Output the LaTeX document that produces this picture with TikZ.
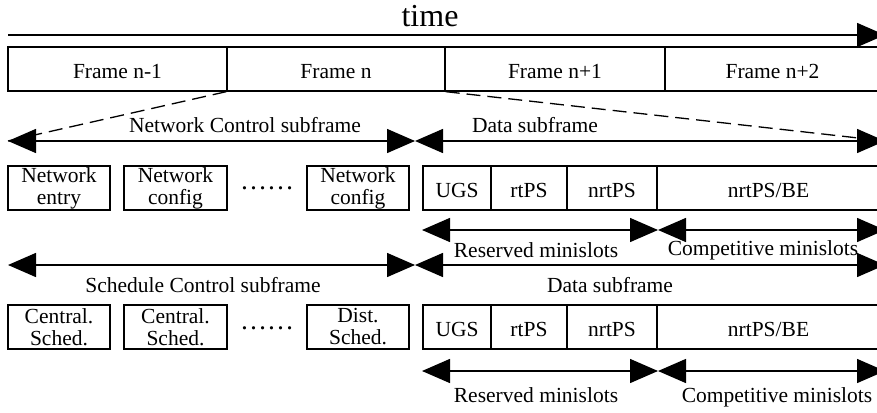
\documentclass[tikz,border=0pt]{standalone}
\usepackage{fontspec}
\setmainfont{Liberation Serif}
\usetikzlibrary{arrows.meta}
\begin{document}
\begin{tikzpicture}[x=1pt,y=-1pt,
  txt/.style={font=\fontsize{21.5}{22}\selectfont, inner sep=0pt, anchor=base},
  cell/.style={draw, line width=1.3pt, inner sep=0pt, font=\fontsize{21.5}{22}\selectfont, align=center},
  one/.style={text height=18pt, text depth=0pt},
  dimarr/.style={line width=1.5pt, {Triangle[length=28pt,width=24pt]}-{Triangle[length=28pt,width=24pt]}},
  onearr/.style={line width=1.5pt, -{Triangle[length=28pt,width=24pt]}},
  dots/.style={font=\fontsize{27}{27}\selectfont, inner sep=0pt, anchor=base},
  dashline/.style={line width=1.3pt, dash pattern=on 14pt off 7pt}
  ]
\useasboundingbox (0,0) rectangle (877,412);

% time
\node[txt, font=\fontsize{32}{32}\selectfont] (time) at (430,27) {time};
\coordinate (t0) at (8,35);
\coordinate (t1) at (885,35);
\draw[onearr] (t0) -- (t1);

% frames
\node[cell, one, minimum width=219pt, minimum height=44pt] (f1) at (117.5,69) {Frame n-1};
\node[cell, one, minimum width=218pt, minimum height=44pt] (f2) at (336,69) {Frame n};
\node[cell, one, minimum width=220pt, minimum height=44pt] (f3) at (555,69) {Frame n+1};
\node[cell, one, minimum width=215pt, minimum height=44pt] (f4) at (772.5,69) {Frame n+2};

% section 1 arrows
\coordinate (ncl) at (8,141);
\coordinate (ncr) at (415,141);
\coordinate (dsr) at (885,141);
\draw[dimarr] (ncl) -- (ncr);
\draw[dimarr] (ncr) -- (dsr);
\draw[dashline] (f2.south west) -- (ncl);
\draw[dashline] (f2.south east) -- (dsr);
\node[txt] (nclab) at (245,132) {Network Control subframe};
\node[txt] (dslab) at (535,132) {Data subframe};

% row 1 boxes
\node[cell, minimum width=102pt, minimum height=44pt] (a1) at (59,188) {Network\\entry};
\node[cell, minimum width=103pt, minimum height=44pt] (a2) at (175.5,188) {Network\\config};
\node[dots] (d1) at (267,189) {……};
\node[cell, minimum width=102pt, minimum height=44pt] (a3) at (358,188) {Network\\config};
\node[cell, one, minimum width=68pt, minimum height=44pt] (u1) at (457,188) {UGS};
\node[cell, one, minimum width=76pt, minimum height=44pt] (r1) at (529,188) {rtPS};
\node[cell, one, minimum width=90pt, minimum height=44pt] (n1) at (612,188) {nrtPS};
\node[cell, one, minimum width=223pt, minimum height=44pt] (b1) at (768.5,188) {nrtPS/BE};

\coordinate (rm1l) at (422,230);
\coordinate (rm1r) at (658,230);
\coordinate (cm1r) at (885,230);
\draw[dimarr] (rm1l) -- (rm1r);
\draw[dimarr] (rm1r) -- (cm1r);
\node[txt] (rmlab1) at (536,257) {Reserved minislots};
\node[txt] (cmlab1) at (763,255) {Competitive minislots};

% section 2
\coordinate (scl) at (8,265);
\coordinate (scr) at (415,265);
\coordinate (ds2r) at (885,265);
\draw[dimarr] (scl) -- (scr);
\draw[dimarr] (scr) -- (ds2r);
\node[txt] (sclab) at (203,292) {Schedule Control subframe};
\node[txt] (ds2lab) at (610,292) {Data subframe};

\node[cell, minimum width=102pt, minimum height=44pt] (c1) at (59,327) {Central.\\Sched.};
\node[cell, minimum width=103pt, minimum height=44pt] (c2) at (175.5,327) {Central.\\Sched.};
\node[dots] (d2) at (267,329) {……};
\node[cell, minimum width=102pt, minimum height=44pt] (c3) at (358,327) {Dist.\\Sched.};
\node[cell, one, minimum width=68pt, minimum height=44pt] (u2) at (457,327) {UGS};
\node[cell, one, minimum width=76pt, minimum height=44pt] (r2) at (529,327) {rtPS};
\node[cell, one, minimum width=90pt, minimum height=44pt] (n2) at (612,327) {nrtPS};
\node[cell, one, minimum width=223pt, minimum height=44pt] (b2) at (768.5,327) {nrtPS/BE};

\coordinate (rm2l) at (422,371);
\coordinate (rm2r) at (658,371);
\coordinate (cm2r) at (885,371);
\draw[dimarr] (rm2l) -- (rm2r);
\draw[dimarr] (rm2r) -- (cm2r);
\node[txt] (rmlab2) at (536,402) {Reserved minislots};
\node[txt] (cmlab2) at (777,402) {Competitive minislots};
\end{tikzpicture}
\end{document}
